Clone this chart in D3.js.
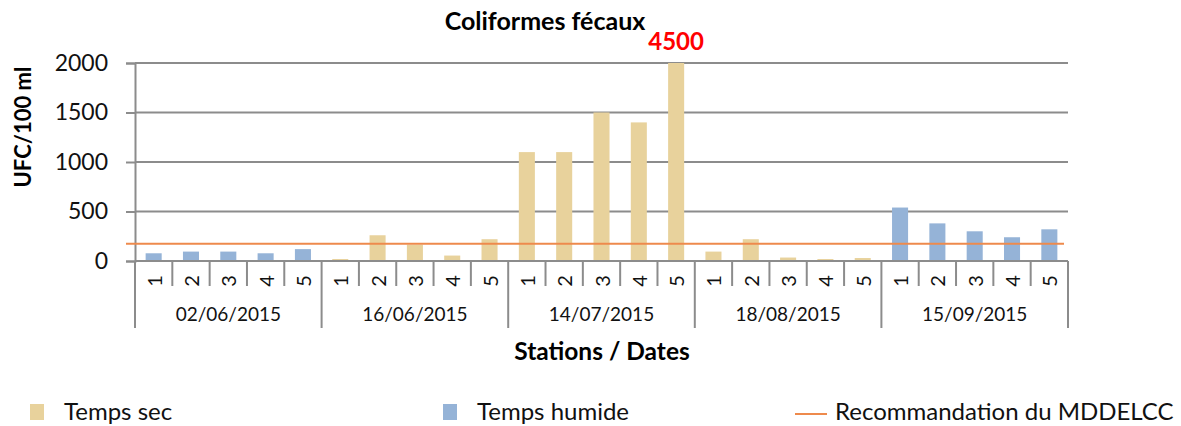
<!DOCTYPE html>
<html>
<head>
<meta charset="utf-8">
<script src="https://cdn.jsdelivr.net/npm/d3@7"></script>
<style>
  body { margin: 0; background: #fff; }
  svg { font-family: Lato, "Open Sans", sans-serif; }
</style>
</head>
<body>
<script>
// donnees
const dates = ['02/06/2015', '16/06/2015', '14/07/2015', '18/08/2015', '15/09/2015'];
const stations = ['1', '2', '3', '4', '5'];
const tempsSec = [null, null, null, null, null,
                  20, 260, 165, 55, 220,
                  1100, 1100, 1500, 1400, 4500,
                  95, 220, 35, 20, 30,
                  null, null, null, null, null];
const tempsHumide = [78, 95, 95, 78, 120,
                     null, null, null, null, null,
                     null, null, null, null, null,
                     null, null, null, null, null,
                     540, 380, 300, 240, 320];
const recommandation = 175;
const yTicks = [0, 500, 1000, 1500, 2000];

const width = 1181, height = 426;
const plotLeft = 135, plotRight = 1068, plotTop = 63, plotBottom = 261;

const couleurSec = '#e8d29c';
const couleurHumide = '#95b3d7';
const couleurReco = '#ee8a4c';
const gris = '#8c8c8c';

const cats = [];
dates.forEach(d => stations.forEach(s => cats.push(d + '|' + s)));

let svg = d3.select('body')
    .append('svg')
    .attr('width', width)
    .attr('height', height);

let x = d3.scaleBand()
    .domain(cats)
    .range([plotLeft, plotRight]);

let y = d3.scaleLinear()
    .domain([0, 2000])
    .range([plotBottom, plotTop])
    .clamp(true);

// grille + axe y
let yAxis = svg.append('g')
    .attr('transform', `translate(${plotLeft},0)`)
    .call(d3.axisLeft(y).tickValues(yTicks).tickFormat(d3.format('d')).tickSize(9).tickPadding(18));
yAxis.select('.domain').attr('stroke', gris).attr('stroke-width', 2);
yAxis.selectAll('.tick line').attr('stroke', gris).attr('stroke-width', 2);
yAxis.selectAll('.tick text')
    .attr('font-size', 23)
    .attr('font-family', 'Lato, sans-serif')
    .attr('fill', '#111');

svg.append('g')
    .selectAll('line')
    .data(yTicks.filter(t => t > 0))
    .enter()
    .append('line')
    .attr('x1', plotLeft)
    .attr('x2', plotRight)
    .attr('y1', d => y(d))
    .attr('y2', d => y(d))
    .attr('stroke', gris)
    .attr('stroke-width', 2);

// barres
const barW = x.bandwidth() * 0.43;
function barres(valeurs, couleur) {
    svg.append('g')
        .selectAll('rect')
        .data(valeurs.map((v, i) => ({ v: v, c: cats[i] })).filter(d => d.v != null))
        .enter()
        .append('rect')
        .attr('x', d => x(d.c) + (x.bandwidth() - barW) / 2)
        .attr('y', d => y(d.v))
        .attr('width', barW)
        .attr('height', d => y(0) - y(d.v))
        .attr('fill', couleur);
}
barres(tempsSec, couleurSec);
barres(tempsHumide, couleurHumide);

// valeur hors echelle
svg.append('g')
    .selectAll('text')
    .data(tempsSec.map((v, i) => ({ v: v, c: cats[i] })).filter(d => d.v > 2000))
    .enter()
    .append('text')
    .attr('x', d => x(d.c) + x.bandwidth() / 2)
    .attr('y', y(2000) - 13)
    .attr('text-anchor', 'middle')
    .attr('font-size', 24)
    .attr('font-weight', 'bold')
    .attr('fill', '#ff0000')
    .text(d => d.v);

// ligne de recommandation
svg.append('line')
    .attr('x1', plotLeft - 9)
    .attr('x2', plotRight - 4)
    .attr('y1', y(recommandation))
    .attr('y2', y(recommandation))
    .attr('stroke', couleurReco)
    .attr('stroke-width', 2);

// axe x a deux niveaux
svg.append('line')
    .attr('x1', plotLeft)
    .attr('x2', plotRight)
    .attr('y1', plotBottom)
    .attr('y2', plotBottom)
    .attr('stroke', gris)
    .attr('stroke-width', 2);

let xg = svg.append('g');
cats.forEach((c, i) => {
    let xb = x(c);
    let premier = i % stations.length == 0;
    xg.append('line')
        .attr('x1', xb).attr('x2', xb)
        .attr('y1', plotBottom).attr('y2', premier ? 328 : 286)
        .attr('stroke', gris).attr('stroke-width', 2);
    xg.append('text')
        .attr('transform', `translate(${xb + x.bandwidth() / 2},281) rotate(-90)`)
        .attr('text-anchor', 'middle')
        .attr('dominant-baseline', 'central')
        .attr('font-size', 20)
        .attr('fill', '#111')
        .text(c.split('|')[1]);
});
xg.append('line')
    .attr('x1', plotRight).attr('x2', plotRight)
    .attr('y1', plotBottom).attr('y2', 328)
    .attr('stroke', gris).attr('stroke-width', 2);

dates.forEach(d => {
    let x0 = x(d + '|' + stations[0]);
    let x1 = x(d + '|' + stations[stations.length - 1]) + x.bandwidth();
    xg.append('text')
        .attr('x', (x0 + x1) / 2)
        .attr('y', 321)
        .attr('text-anchor', 'middle')
        .attr('font-size', 19)
        .attr('fill', '#111')
        .text(d);
});

// titres
svg.append('text')
    .attr('x', 545)
    .attr('y', 30)
    .attr('text-anchor', 'middle')
    .attr('font-size', 25)
    .attr('font-weight', 'bold')
    .text('Coliformes fécaux');

svg.append('text')
    .attr('x', 602)
    .attr('y', 360)
    .attr('text-anchor', 'middle')
    .attr('font-size', 24.5)
    .attr('font-weight', 'bold')
    .text('Stations / Dates');

svg.append('text')
    .attr('transform', 'translate(31,127) rotate(-90)')
    .attr('text-anchor', 'middle')
    .attr('font-size', 22)
    .attr('font-weight', 'bold')
    .text('UFC/100 ml');

// legende
const legende = [
    { nom: 'Temps sec', couleur: couleurSec, type: 'rect', x: 30 },
    { nom: 'Temps humide', couleur: couleurHumide, type: 'rect', x: 443 },
    { nom: 'Recommandation du MDDELCC', couleur: couleurReco, type: 'line', x: 795 }
];
let lg = svg.append('g');
legende.forEach(l => {
    if (l.type == 'rect') {
        lg.append('rect')
            .attr('x', l.x).attr('y', 404)
            .attr('width', 14).attr('height', 16)
            .attr('fill', l.couleur);
    } else {
        lg.append('line')
            .attr('x1', l.x).attr('x2', l.x + 32)
            .attr('y1', 414).attr('y2', 414)
            .attr('stroke', l.couleur).attr('stroke-width', 2);
    }
    lg.append('text')
        .attr('x', l.type == 'rect' ? l.x + 34 : l.x + 40)
        .attr('y', 420)
        .attr('font-size', 24)
        .attr('fill', '#111')
        .text(l.nom);
});
</script>
</body>
</html>
